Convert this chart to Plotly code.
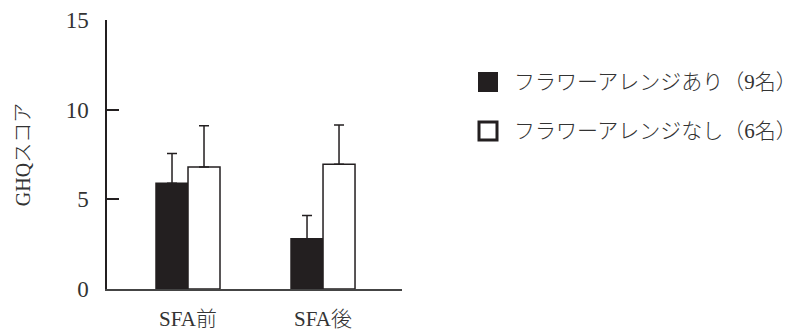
import plotly.graph_objects as go

categories = ["SFA前", "SFA後"]
series_names = ["フラワーアレンジあり（9名）", "フラワーアレンジなし（6名）"]
with_flower = [5.9, 2.8]
with_flower_err = [1.65, 1.3]
without_flower = [6.8, 6.95]
without_flower_err = [2.3, 2.2]
y_ticks = [0, 5, 10, 15]

INK = "#231f20"
FONT = "Liberation Serif, Noto Sans CJK JP, serif"

W, H = 797, 335
L, R, T, B = 107, 395, 20, 46
pw, ph = W - L - R, H - T - B

fig = go.Figure()
fig.add_trace(go.Bar(
    x=categories, y=with_flower, name=series_names[0],
    marker=dict(color=INK, line=dict(color=INK, width=1.5)),
    error_y=dict(type="data", array=with_flower_err, arrayminus=[0, 0], symmetric=False,
                 color=INK, thickness=1.5, width=5),
))
fig.add_trace(go.Bar(
    x=categories, y=without_flower, name=series_names[1],
    marker=dict(color="white", line=dict(color=INK, width=1.5)),
    error_y=dict(type="data", array=without_flower_err, arrayminus=[0, 0], symmetric=False,
                 color=INK, thickness=1.5, width=5),
))

def px_x(p):
    return (p - L) / pw

def px_y(p):
    return (H - B - p) / ph

# legend drawn manually
sq = [(478, 72, 498, 92), (479, 122, 497, 140)]
fills = [INK, "white"]
lw = [0, 3]
centers = [82, 131]
for i in range(2):
    x0, y0, x1, y1 = sq[i]
    fig.add_shape(type="rect", xref="paper", yref="paper",
                  x0=px_x(x0), x1=px_x(x1), y0=px_y(y1), y1=px_y(y0),
                  fillcolor=fills[i], line=dict(color=INK, width=lw[i]))
    fig.add_annotation(xref="paper", yref="paper", x=px_x(512), y=px_y(centers[i]),
                       xanchor="left", yanchor="middle", text=series_names[i],
                       showarrow=False,
                       font=dict(family=FONT, size=21, color="#333333", weight=300))

fig.update_layout(
    width=W, height=H,
    margin=dict(l=L, r=R, t=T, b=B, pad=0, autoexpand=False),
    paper_bgcolor="white", plot_bgcolor="white",
    barmode="group", bargap=0.526, bargroupgap=0,
    showlegend=False,
    font=dict(family=FONT, color="#333333"),
)
fig.update_xaxes(
    type="category", range=[-0.6, 1.585], automargin=False,
    showline=True, linecolor="#444444", linewidth=2,
    ticks="", showgrid=False, zeroline=False,
    tickfont=dict(family=FONT, size=21, color="#333333", weight=300),
    ticklabelstandoff=10,
)
fig.update_yaxes(
    range=[0, 15], tickvals=y_ticks, ticktext=[str(v) for v in y_ticks],
    automargin=False,
    showline=True, linecolor=INK, linewidth=1.5,
    ticks="inside", ticklen=12, tickwidth=1.5, tickcolor=INK,
    showgrid=False, zeroline=False,
    tickfont=dict(family=FONT, size=23, color="#333333"),
    ticklabelstandoff=12,
    title=dict(text="GHQスコア", font=dict(family=FONT, size=20, color="#333333", weight=300), standoff=30),
)

fig.write_html("out.html")
